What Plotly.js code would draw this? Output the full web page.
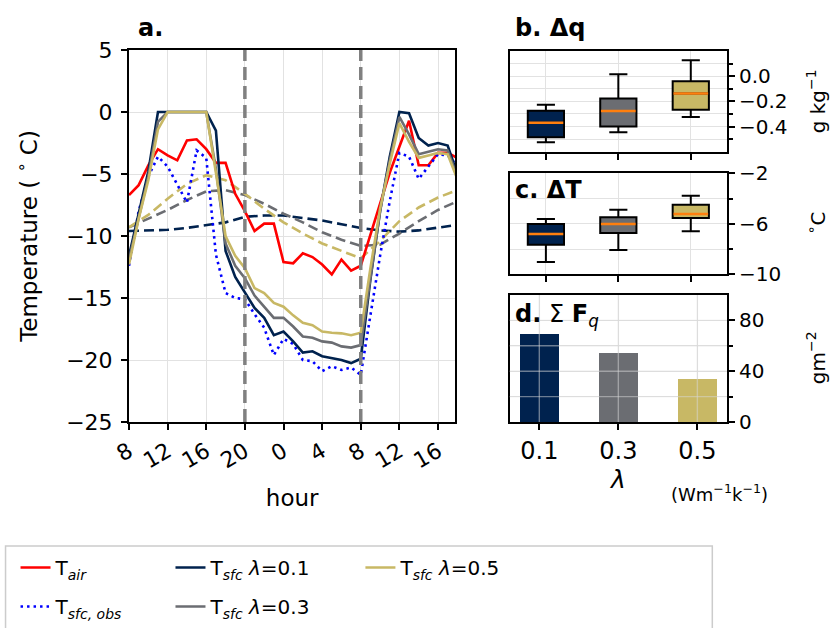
<!DOCTYPE html>
<html><head><meta charset="utf-8">
<script src="https://cdn.plot.ly/plotly-3.0.1.min.js"></script>
<style>html,body{margin:0;padding:0;background:#fff}</style>
</head><body><div id="chart" style="width:832px;height:628px"></div>
<script>
// ---- data ----
// hours since 08:00 on day 1
const hours = [0,1,2,3,4,5,6,7,8,9,10,11,12,13,14,15,16,17,18,19,20,21,22,23,24,25,26,27,28,29,30,31,32,33,34];
const hours2 = [0,2,4,6,8,10,12,14,16,18,20,22,24,26,28,30,32,34];
const hourTickVals = [0,4,8,12,16,20,24,28,32];
const hourTickText = ['8','12','16','20','0','4','8','12','16'];
const nightBounds = [12, 24];

const tAir    = [-6.7,-5.9,-4.3,-3.0,-3.5,-3.9,-2.3,-2.2,-3.0,-4.1,-4.1,-6.6,-8.0,-9.6,-9.0,-9.0,-12.1,-12.2,-11.4,-11.7,-12.3,-13.1,-11.9,-12.8,-12.4,-9.9,-7.3,-4.9,-2.8,-0.7,-4.3,-4.3,-3.3,-3.3,-3.7];
const tSfcObs = [-12.4,-8.0,-5.2,-3.6,-4.4,-5.9,-7.3,-3.1,-3.7,-11.5,-14.6,-15.0,-15.1,-16.3,-17.4,-19.6,-18.3,-18.7,-20.0,-20.1,-20.9,-20.5,-20.8,-20.6,-21.2,-16.4,-11.6,-7.2,-3.3,-3.6,-5.4,-4.4,-3.4,-3.5,-4.3];
const tSfc01  = [-11.6,-8.3,-4.8,0,0,0,0,0,0,-1.5,-11.2,-13.3,-14.5,-15.8,-16.6,-18.0,-17.7,-18.5,-19.4,-19.3,-19.7,-19.85,-20.0,-20.25,-19.9,-13.5,-8.0,-3.6,0,-0.1,-2.1,-2.7,-2.5,-2.7,-5.0];
const tSfc03  = [-11.9,-8.5,-5.2,-0.8,0,0,0,0,0,-4.6,-10.6,-12.4,-13.4,-14.8,-15.7,-16.6,-16.6,-17.3,-18.1,-18.2,-18.5,-18.6,-18.9,-19.0,-18.8,-13.2,-8.0,-3.9,-0.4,-1.8,-3.4,-3.2,-3.0,-3.1,-5.2];
const tSfc05  = [-12.3,-8.6,-5.5,-1.4,0,0,0,0,0,-4.9,-10.0,-11.6,-12.6,-14.2,-14.6,-15.4,-15.7,-16.4,-17.0,-17.2,-17.7,-17.8,-17.85,-18.0,-17.8,-12.6,-7.8,-4.2,-0.9,-2.4,-3.7,-3.5,-3.3,-3.4,-5.4];
const tDeep01 = [-9.6,-9.55,-9.5,-9.35,-9.15,-8.9,-8.45,-8.35,-8.35,-8.55,-8.75,-9.05,-9.35,-9.55,-9.65,-9.55,-9.35,-9.1];
const tDeep03 = [-9.3,-8.6,-7.9,-7.1,-6.4,-6.3,-6.7,-7.4,-8.2,-8.9,-9.7,-10.3,-10.8,-10.7,-9.8,-8.8,-7.9,-7.2];
const tDeep05 = [-9.3,-8.3,-7.0,-5.8,-5.1,-5.5,-6.6,-7.8,-8.9,-9.8,-10.6,-11.2,-11.8,-10.4,-8.8,-7.7,-6.9,-6.3];

const lambdas = ['0.1','0.3','0.5'];
// b. delta q (g/kg) box stats
const dqLower = [-0.525,-0.445,-0.325];
const dqQ1    = [-0.485,-0.400,-0.266];
const dqMed   = [-0.370,-0.277,-0.138];
const dqQ3    = [-0.274,-0.178,-0.040];
const dqUpper = [-0.227, 0.016, 0.126];
// c. delta T (C) box stats
const dtLower = [-9.03,-8.08,-6.60];
const dtQ1    = [-7.65,-6.73,-5.54];
const dtMed   = [-6.81,-6.02,-5.22];
const dtQ3    = [-6.02,-5.49,-4.49];
const dtUpper = [-5.62,-4.88,-3.77];
// d. sum Fq (g m-2)
const sumFq = [69.5, 54.7, 33.6];

// ---- styles ----
const FONT = 'DejaVu Sans';
const cNavy = '#00224e', cGray = '#6b6d72', cGold = '#c8b865';
const lamColors = [cNavy, cGray, cGold];
const gridC = '#e2e2e2';
const BOXW = 0.5;

const traces = [];
const lw = 2.6;
function line(y, x, color, name, dash, legend, show) {
  return {type:'scatter', mode:'lines', x:x, y:y, name:name,
    line:{color:color, width:lw, dash:dash||'solid'},
    xaxis:'x', yaxis:'y', showlegend:!!show, legend:legend||'legend', legendgroup:name};
}
// dashed (not in legend)
traces.push(line(tDeep01, hours2, cNavy, 'd01', '10px,5px'));
traces.push(line(tDeep03, hours2, cGray, 'd03', '10px,5px'));
traces.push(line(tDeep05, hours2, cGold, 'd05', '10px,5px'));
traces.push(line(tAir, hours, '#ff0000', 'T<sub><i>air</i></sub>', 'solid', 'legend', true));
traces.push(line(tSfcObs, hours, '#0000ff', 'T<sub><i>sfc, obs</i></sub>', '2.5px,4px', 'legend', true));
traces.push(line(tSfc01, hours, cNavy, 'T<sub><i>sfc</i></sub> <i>λ</i>=0.1', 'solid', 'legend2', true));
traces.push(line(tSfc03, hours, cGray, 'T<sub><i>sfc</i></sub> <i>λ</i>=0.3', 'solid', 'legend2', true));
traces.push(line(tSfc05, hours, cGold, 'T<sub><i>sfc</i></sub> <i>λ</i>=0.5', 'solid', 'legend3', true));

// box panels
function boxes(lo, q1, med, q3, hi, xa, ya) {
  for (let i = 0; i < lambdas.length; i++) {
    traces.push({type:'box', x:[i], q1:[q1[i]], median:[med[i]], q3:[q3[i]],
      lowerfence:[lo[i]], upperfence:[hi[i]], width:BOXW, whiskerwidth:0.5,
      fillcolor:lamColors[i], line:{color:'#000', width:2}, boxpoints:false,
      xaxis:xa, yaxis:ya, showlegend:false, hoverinfo:'skip'});
    traces.push({type:'scatter', mode:'lines', x:[i-BOXW/2+0.01, i+BOXW/2-0.01], y:[med[i], med[i]],
      line:{color:'#ff7f0e', width:2.5}, xaxis:xa, yaxis:ya, showlegend:false, hoverinfo:'skip'});
  }
}
boxes(dqLower, dqQ1, dqMed, dqQ3, dqUpper, 'x2', 'y2');
boxes(dtLower, dtQ1, dtMed, dtQ3, dtUpper, 'x3', 'y3');
traces.push({type:'bar', x:[0,1,2], y:sumFq, width:0.5, marker:{color:lamColors, line:{width:0}},
  xaxis:'x4', yaxis:'y4', showlegend:false, hoverinfo:'skip'});

// ---- layout ----
const axBase = {showline:true, linecolor:'#000', linewidth:2, mirror:true, ticks:'outside',
  ticklen:6, tickwidth:2, tickcolor:'#000', showgrid:true, gridcolor:gridC, gridwidth:1.4,
  zeroline:false, automargin:false, tickfont:{family:FONT, size:20, color:'#000'}};
const rightMinor = (vals) => ({tickvals:vals, ticks:'outside', ticklen:4, tickwidth:1.5, tickcolor:'#000', showgrid:true, gridcolor:gridC, gridwidth:1.4});
const px = v => (v - 128.5) / 598.2;
const py = v => 1 - (v - 50) / 372;

// gridlines drawn over the bars of panel d (as in the reference)
const dGridY = [20, 40, 60, 80];
const dGridX = [0, 1, 2];
const overGrid = dGridY.map(v => ({type:'line', xref:'x4 domain', yref:'y4', x0:0, x1:1, y0:v, y1:v,
    line:{color:'rgba(215,215,215,0.5)', width:1.4}, layer:'above'}))
  .concat(dGridX.map(v => ({type:'line', xref:'x4', yref:'y4 domain', x0:v, x1:v, y0:0, y1:1,
    line:{color:'rgba(215,215,215,0.5)', width:1.4}, layer:'above'})));

const legFont = {family:FONT, size:20, color:'#000'};
const layout = {
  width:832, height:628, paper_bgcolor:'#fff', plot_bgcolor:'#fff',
  margin:{l:128.5, r:105.3, t:50, b:206, autoexpand:false},
  font:{family:FONT, color:'#000'},
  boxmode:'overlay', bargap:0,
  xaxis:Object.assign({}, axBase, {domain:[0, px(455)], range:[0, 33.8], tickvals:hourTickVals,
    ticktext:hourTickText, tickangle:-30, tickfont:{family:FONT,size:22,color:'#000'},
    title:{text:'hour', font:{family:FONT,size:23}, standoff:18}, anchor:'y'}),
  yaxis:Object.assign({}, axBase, {domain:[0,1], range:[-25,5], tickvals:[-25,-20,-15,-10,-5,0,5],
    tickfont:{family:FONT,size:22,color:'#000'}, ticklabelstandoff:4,
    title:{text:'Temperature ( <sup>∘</sup> C)', font:{family:FONT,size:23}, standoff:22}, anchor:'x'}),
  xaxis2:Object.assign({}, axBase, {domain:[px(509.3),1], range:[-0.5,2.5], tickvals:[0,1,2],
    showticklabels:false, anchor:'y2'}),
  yaxis2:Object.assign({}, axBase, {domain:[py(151.7), py(51)], range:[-0.6,0.2], side:'right',
    tickvals:[-0.4,-0.2,0], tickformat:'.1f', minor:rightMinor([-0.5,-0.3,-0.1,0.1]), anchor:'x2'}),
  xaxis3:Object.assign({}, axBase, {domain:[px(509.3),1], range:[-0.5,2.5], tickvals:[0,1,2],
    showticklabels:false, anchor:'y3'}),
  yaxis3:Object.assign({}, axBase, {domain:[py(274.3), py(173.3)], range:[-10,-2], side:'right',
    tickvals:[-10,-6,-2], minor:rightMinor([-8,-4]), anchor:'x3'}),
  xaxis4:Object.assign({}, axBase, {domain:[px(509.3),1], range:[-0.375,2.375], tickvals:[0,1,2],
    ticktext:lambdas, tickfont:{family:FONT,size:24,color:'#000'},
    title:{text:'<i>λ</i>', font:{family:FONT,size:25}, standoff:6}, anchor:'y4'}),
  yaxis4:Object.assign({}, axBase, {domain:[0, py(295)], range:[0,100], side:'right',
    tickvals:[0,40,80], minor:rightMinor([20,60]), anchor:'x4'}),
  shapes: nightBounds.map(h => ({type:'line', xref:'x', yref:'y domain', x0:h, x1:h, y0:0, y1:1,
    line:{color:'#808080', width:3.5, dash:'13px,6px'}, layer:'above'})).concat(overGrid).concat([
    {type:'rect', xref:'paper', yref:'paper', x0:px(5), x1:px(712), y0:py(645), y1:py(546),
     line:{color:'#cccccc', width:1.5}, fillcolor:'rgba(255,255,255,0)', layer:'below'}]),
  annotations:[
    {text:'<b>a.</b>', xref:'paper', yref:'paper', x:px(136), y:py(28), xanchor:'left', yanchor:'middle', showarrow:false, font:{family:FONT,size:24}},
    {text:'<b>b. Δq</b>', xref:'paper', yref:'paper', x:px(513), y:py(28), xanchor:'left', yanchor:'middle', showarrow:false, font:{family:FONT,size:24}},
    {text:'<b>c. ΔT</b>', xref:'paper', yref:'paper', x:px(513), y:py(190), xanchor:'left', yanchor:'middle', showarrow:false, font:{family:FONT,size:24}},
    {text:'<b>d.</b> Σ <b>F</b><sub><i>q</i></sub>', xref:'paper', yref:'paper', x:px(513), y:py(315), xanchor:'left', yanchor:'middle', showarrow:false, font:{family:FONT,size:24}},
    {text:'g kg<sup>−1</sup>', xref:'paper', yref:'paper', x:px(816), y:py(101), xanchor:'center', yanchor:'middle', textangle:-90, showarrow:false, font:{family:FONT,size:20}},
    {text:'<sup>∘</sup>C', xref:'paper', yref:'paper', x:px(816), y:py(223), xanchor:'center', yanchor:'middle', textangle:-90, showarrow:false, font:{family:FONT,size:20}},
    {text:'gm<sup>−2</sup>', xref:'paper', yref:'paper', x:px(816), y:py(358), xanchor:'center', yanchor:'middle', textangle:-90, showarrow:false, font:{family:FONT,size:20}},
    {text:'(Wm<sup>−1</sup>k<sup>−1</sup>)', xref:'paper', yref:'paper', x:px(719), y:py(493), xanchor:'center', yanchor:'middle', showarrow:false, font:{family:FONT,size:18}}
  ],
  legend:{x:px(15), y:py(548), xanchor:'left', yanchor:'top', bgcolor:'rgba(0,0,0,0)', font:legFont, tracegroupgap:10, traceorder:'grouped'},
  legend2:{x:px(170), y:py(548), xanchor:'left', yanchor:'top', bgcolor:'rgba(0,0,0,0)', font:legFont, tracegroupgap:10, traceorder:'grouped'},
  legend3:{x:px(360), y:py(548), xanchor:'left', yanchor:'top', bgcolor:'rgba(0,0,0,0)', font:legFont, tracegroupgap:10, traceorder:'grouped'}
};

Plotly.newPlot('chart', traces, layout, {displayModeBar:false, responsive:false});
</script>
</body></html>
